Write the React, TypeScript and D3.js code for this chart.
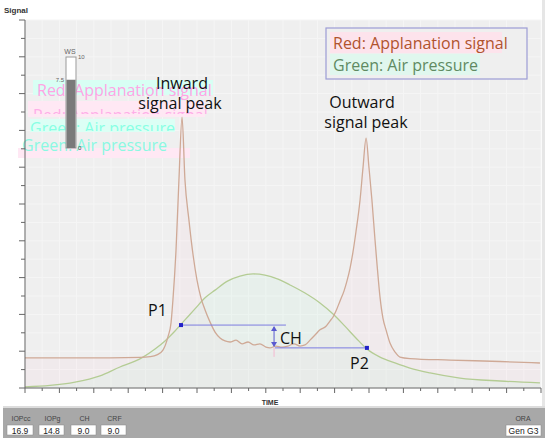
import React from "react";
import * as d3 from "d3";

// Red: applanation signal (time units = x-axis ticks, signal units = y-axis major ticks)
const RED_TIME = [0, 4.36, 6.69, 7.27, 7.67, 8.02, 8.31, 8.49, 8.6, 8.78, 8.95, 9.13, 9.3, 9.53, 9.77, 10.0, 10.23, 10.47, 10.76, 11.05, 11.34, 11.63, 11.92, 12.27, 12.62, 12.97, 13.31, 13.66, 14.01, 14.24, 14.59, 14.94, 15.29, 15.64, 15.99, 16.28, 16.57, 16.86, 17.15, 17.5, 17.73, 17.91, 18.08, 18.31, 18.55, 18.72, 18.9, 19.07, 19.24, 19.48, 19.65, 19.83, 20.0, 20.17, 20.35, 20.47, 20.64, 20.81, 20.99, 21.22, 21.51, 21.8, 22.38, 24.71, 27.62, 29.94];
const RED_SIGNAL = [0.82, 0.82, 0.83, 0.85, 0.9, 1.03, 1.39, 1.77, 2.39, 3.75, 5.65, 7.36, 5.65, 4.57, 3.62, 2.93, 2.45, 2.12, 1.79, 1.52, 1.36, 1.28, 1.25, 1.3, 1.2, 1.25, 1.17, 1.2, 1.11, 1.09, 1.14, 1.11, 1.14, 1.2, 1.14, 1.17, 1.3, 1.44, 1.58, 1.68, 1.82, 1.93, 2.09, 2.36, 2.64, 2.91, 3.26, 3.7, 4.24, 5.11, 5.98, 6.79, 5.98, 5.11, 4.02, 3.34, 2.47, 1.9, 1.58, 1.22, 0.98, 0.84, 0.8, 0.76, 0.72, 0.68];

// Green: air pressure
const AIR_TIME = [0, 1.45, 2.91, 4.36, 5.52, 6.4, 6.86, 7.56, 8.14, 8.72, 9.3, 9.88, 10.47, 11.05, 11.8, 12.5, 13.26, 13.95, 14.71, 15.41, 16.28, 17.15, 17.91, 18.6, 19.24, 19.88, 20.64, 21.51, 22.38, 23.55, 25.29, 27.62, 29.94];
const AIR_PRESSURE = [0.03, 0.07, 0.16, 0.33, 0.57, 0.73, 0.84, 1.06, 1.28, 1.55, 1.85, 2.15, 2.45, 2.66, 2.91, 3.04, 3.1, 3.07, 2.96, 2.8, 2.58, 2.31, 2.01, 1.68, 1.36, 1.06, 0.84, 0.68, 0.54, 0.41, 0.27, 0.19, 0.14];

// Applanation points
const P_NAMES = ["P1", "P2"];
const P_TIME = [9.07, 19.88];
const P_VALUE = [1.71, 1.09];
const P_LINE_END = [15.17, 14.53];
const CH_TIME = 14.48;

// Bottom panel
const PARAM_LABELS = ["IOPcc", "IOPg", "CH", "CRF"];
const PARAM_VALUES = ["16.9", "14.8", "9.0", "9.0"];
const WS_VALUE = 7.5;

const W = 550;
const H = 441;

export default function App() {
  const x = d3.scaleLinear().domain([0, 30]).range([25, 541]);
  const y = d3.scaleLinear().domain([0, 10]).range([388, 20]);
  const ws = d3.scaleLinear().domain([0, 10]).range([148, 57]);

  const red = RED_TIME.map((t, i) => [t, RED_SIGNAL[i]] as [number, number]);
  const air = AIR_TIME.map((t, i) => [t, AIR_PRESSURE[i]] as [number, number]);

  const line = d3
    .line<[number, number]>()
    .x((d) => x(d[0]))
    .y((d) => y(d[1]))
    .curve(d3.curveMonotoneX);
  const area = d3
    .area<[number, number]>()
    .x((d) => x(d[0]))
    .y0(y(0))
    .y1((d) => y(d[1]))
    .curve(d3.curveMonotoneX);

  const xTicks = d3.range(0, 31);
  const yTicks = d3.range(0, 10.01, 0.5);

  const sans = "'Open Sans', 'Noto Sans', sans-serif";
  const ui = "'Liberation Sans', Arial, sans-serif";

  const boxX = [7, 39, 71, 101];
  const boxW = [26, 25, 25, 25];

  const chX = x(CH_TIME);
  const yTop = y(P_VALUE[0]);
  const yBot = y(P_VALUE[1]);

  return (
    <svg
      width={W}
      height={H}
      style={{ position: "absolute", left: 0, top: 0, background: "#fff" }}
    >
      <defs>
        <clipPath id="ghost1">
          <rect x={0} y={101} width={250} height={13} />
        </clipPath>
        <clipPath id="ghost2">
          <rect x={0} y={120} width={250} height={11} />
        </clipPath>
      </defs>

      {/* plot background */}
      <rect x={25} y={20} width={516} height={368} fill="#efefef" />
      {/* faint grid */}
      {xTicks.map((t) => (
        <line key={"gx" + t} x1={x(t)} x2={x(t)} y1={20} y2={388} stroke="#f5f5f5" strokeWidth={1} />
      ))}
      {yTicks.map((t) => (
        <line key={"gy" + t} x1={25} x2={541} y1={y(t)} y2={y(t)} stroke="#f5f5f5" strokeWidth={1} />
      ))}
      <rect x={542} y={0} width={3} height={408} fill="#e6e6e6" />

      {/* tinted areas */}
      <path d={area(red) || ""} fill="rgb(255,200,220)" opacity={0.1} />
      <path d={area(air) || ""} fill="rgb(190,245,220)" opacity={0.16} />

      {/* ghost legend text */}
      <rect x={33} y={80} width={180} height={15} fill="#d8fff4" />
      <text x={37} y={96} fontFamily={sans} fontSize={16} fill="#ffa4e4">Red: Applanation signal</text>
      <rect x={28} y={101} width={177} height={16} fill="#ffe8f4" />
      <text x={33} y={121} fontFamily={sans} fontSize={16} fill="#ffaee8" clipPath="url(#ghost1)">Red: Applanation signal</text>
      <rect x={30} y={119} width={145} height={13} fill="#dcfff5" />
      <text x={30} y={134} fontFamily={sans} fontSize={16} fill="#88ffe4" clipPath="url(#ghost2)">Green: Air pressure</text>
      <rect x={18} y={148} width={172} height={10} fill="#ffe8f4" />
      <text x={22} y={151} fontFamily={sans} fontSize={16} fill="#8af8e2">Green: Air pressure</text>

      {/* WS gauge */}
      <rect x={66} y={ws(10)} width={10} height={ws(0) - ws(10)} fill="#fff" stroke="#999" strokeWidth={1} />
      <rect x={66.5} y={ws(WS_VALUE)} width={9} height={ws(0) - ws(WS_VALUE)} fill="#7a7a7a" />
      <text x={70} y={54} textAnchor="middle" fontFamily={ui} fontSize={7} fill="#666">WS</text>
      <text x={78} y={59} fontFamily={ui} fontSize={6} fill="#666">10</text>
      <text x={64} y={ws(WS_VALUE) + 2} textAnchor="end" fontFamily={ui} fontSize={6} fill="#666">7.5</text>
      <text x={78} y={150} fontFamily={ui} fontSize={6} fill="#444">0</text>

      {/* curves */}
      <path d={line(air) || ""} fill="none" stroke="#b4cc94" strokeWidth={1.3} />
      <path d={line(red) || ""} fill="none" stroke="#cfa996" strokeWidth={1.3} />

      {/* axes */}
      <line x1={25} x2={25} y1={20} y2={388} stroke="#666" />
      <line x1={25} x2={541} y1={388} y2={388} stroke="#666" />
      {yTicks.map((t) => (
        <line key={"ty" + t} x1={Number.isInteger(t) ? 19 : 21} x2={25} y1={y(t)} y2={y(t)} stroke="#666" />
      ))}
      {xTicks.map((t) => (
        <line key={"tx" + t} x1={x(t)} x2={x(t)} y1={388} y2={t % 2 === 0 ? 393 : 391} stroke="#666" />
      ))}
      <text x={4} y={13} fontFamily={ui} fontSize={8} fontWeight="bold" fill="#333">Signal</text>
      <text x={270} y={405} textAnchor="middle" fontFamily={ui} fontSize={7} fontWeight="bold" fill="#333">TIME</text>

      {/* P1 / P2 / CH */}
      {P_NAMES.map((n, i) => (
        <g key={n}>
          <line
            x1={x(P_TIME[i])}
            x2={x(P_LINE_END[i])}
            y1={y(P_VALUE[i])}
            y2={y(P_VALUE[i])}
            stroke="#7c7ce0"
            strokeWidth={1}
          />
          <rect x={x(P_TIME[i]) - 2} y={y(P_VALUE[i]) - 2} width={4} height={4} fill="#2222c8" />
        </g>
      ))}
      <line x1={chX} x2={chX} y1={yTop + 2} y2={yBot - 2} stroke="#5a5ad0" />
      <path d={`M${chX},${yTop + 1} L${chX - 3},${yTop + 6} L${chX + 3},${yTop + 6} Z`} fill="#5a5ad0" />
      <path d={`M${chX},${yBot - 1} L${chX - 3},${yBot - 6} L${chX + 3},${yBot - 6} Z`} fill="#5a5ad0" />
      <line x1={chX} x2={chX} y1={yBot} y2={yBot + 9} stroke="#f4b8d0" />
      <text x={148} y={316} fontFamily={sans} fontSize={16} fill="#111">P1</text>
      <text x={350} y={369} fontFamily={sans} fontSize={16} fill="#111">P2</text>
      <text x={280} y={344} fontFamily={sans} fontSize={16} fill="#111">CH</text>

      {/* annotations */}
      <text x={182} y={89} textAnchor="middle" fontFamily={sans} fontSize={16} fill="#111">Inward</text>
      <text x={180} y={109} textAnchor="middle" fontFamily={sans} fontSize={16} fill="#111">signal peak</text>
      <text x={362} y={108} textAnchor="middle" fontFamily={sans} fontSize={16} fill="#111">Outward</text>
      <text x={366} y={128} textAnchor="middle" fontFamily={sans} fontSize={16} fill="#111">signal peak</text>

      {/* legend box */}
      <rect x={326} y={28} width={201} height={51} fill="#efefef" stroke="#9c9cd4" strokeWidth={1.2} />
      <rect x={330} y={32} width={172} height={21} fill="#fde3ec" />
      <rect x={330} y={54} width={150} height={21} fill="#e0f7ee" />
      <text x={333} y={49} fontFamily={sans} fontSize={16} fill="#b0532e">Red: Applanation signal</text>
      <text x={333} y={71} fontFamily={sans} fontSize={16} fill="#5f8a62">Green: Air pressure</text>

      {/* bottom panel */}
      <rect x={3} y={406} width={542} height={2} fill="#dcdcdc" />
      <rect x={3} y={408} width={542} height={30} fill="#a8a8a8" />
      {PARAM_LABELS.map((l, i) => (
        <g key={l}>
          <text x={boxX[i] + boxW[i] / 2 + 1} y={421} textAnchor="middle" fontFamily={ui} fontSize={7} fill="#444">{l}</text>
          <rect x={boxX[i]} y={425} width={boxW[i]} height={10} fill="#fff" stroke="#888" strokeWidth={0.5} />
          <text x={boxX[i] + boxW[i] / 2} y={433.5} textAnchor="middle" fontFamily={ui} fontSize={8.5} fill="#222">{PARAM_VALUES[i]}</text>
        </g>
      ))}
      <text x={523} y={421} textAnchor="middle" fontFamily={ui} fontSize={7} fill="#444">ORA</text>
      <rect x={506} y={425} width={35} height={11} fill="#fff" stroke="#888" strokeWidth={0.5} />
      <text x={523.5} y={434} textAnchor="middle" fontFamily={ui} fontSize={8.5} fill="#222">Gen G3</text>
    </svg>
  );
}
